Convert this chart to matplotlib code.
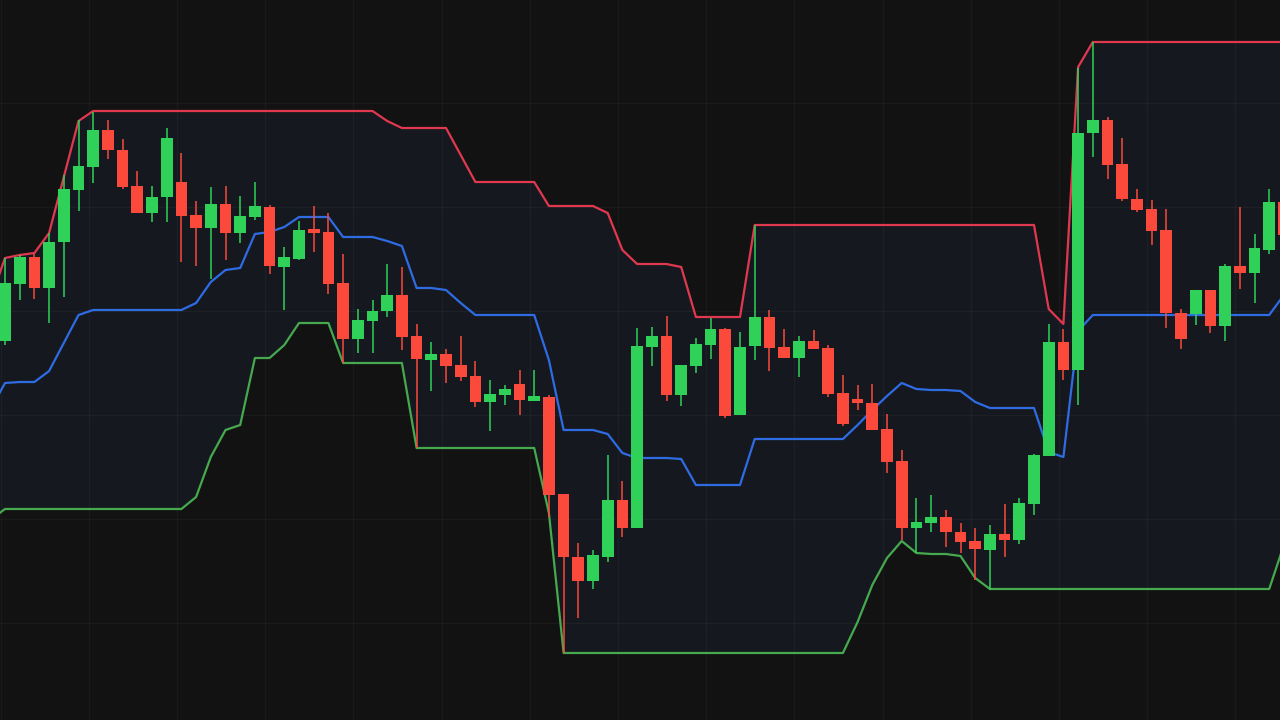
import numpy as np
import matplotlib.pyplot as plt
from matplotlib.patches import Rectangle

# candles (price units), index 0..87
opens = [379, 436, 463, 432, 478, 530, 553, 590, 570, 534, 507, 523, 538, 505, 492, 516, 487, 503, 513, 453,
         461, 491, 488, 437, 381, 399, 409, 425, 384, 360, 366, 355, 344, 318, 325, 336, 319, 323, 226, 163,
         139, 163, 220, 192, 373, 384, 325, 354, 375, 391, 305, 374, 403, 373, 362, 379, 372, 327, 321, 317,
         291, 259, 192, 197, 203, 188, 179, 170, 186, 180, 216, 264, 378, 350, 587, 600, 556, 521, 511, 490,
         407, 406, 430, 394, 454, 447, 470, 518]
highs = [462, 465, 466, 487, 545, 600, 608, 600, 581, 549, 534, 592, 567, 519, 533, 534, 524, 538, 515, 473,
         499, 514, 507, 466, 411, 420, 456, 453, 396, 378, 371, 384, 359, 340, 335, 350, 350, 325, 226, 177,
         170, 265, 239, 392, 393, 404, 355, 382, 402, 392, 388, 495, 410, 391, 384, 390, 375, 345, 335, 336,
         306, 270, 222, 225, 210, 197, 192, 195, 216, 222, 266, 396, 391, 652, 678, 603, 582, 531, 520, 511,
         411, 430, 430, 456, 513, 486, 531, 530]
lows = [375, 420, 421, 397, 423, 509, 537, 561, 531, 507, 498, 498, 458, 454, 441, 460, 477, 500, 446, 410,
        460, 468, 426, 357, 367, 367, 403, 370, 272, 329, 337, 339, 313, 289, 315, 305, 319, 203, 67, 102,
        131, 158, 183, 192, 354, 319, 314, 347, 361, 302, 305, 360, 349, 362, 343, 371, 323, 294, 310, 290,
        247, 180, 167, 188, 173, 167, 140, 130, 163, 176, 205, 264, 340, 315, 563, 541, 519, 508, 475, 392,
        371, 395, 387, 379, 431, 417, 466, 475]
closes = [437, 463, 432, 478, 531, 554, 590, 570, 533, 507, 523, 582, 504, 492, 516, 487, 504, 514, 454, 463,
          490, 487, 436, 381, 400, 409, 425, 383, 361, 366, 354, 343, 318, 326, 331, 320, 324, 225, 163, 139,
          165, 220, 192, 374, 384, 325, 355, 376, 391, 304, 373, 403, 372, 362, 379, 371, 326, 296, 317, 290,
          258, 192, 198, 203, 188, 178, 171, 186, 180, 217, 265, 378, 350, 587, 600, 555, 521, 510, 489, 407,
          381, 430, 394, 454, 447, 472, 518, 485]

# Donchian channel, index -1..87
upper = [420, 462, 465, 467, 487, 543, 599, 609, 609, 609, 609, 609, 609, 609, 609, 609, 609, 609, 609, 609,
         609, 609, 609, 609, 609, 609, 609, 599, 592, 592, 592, 592, 565, 538, 538, 538, 538, 538, 514, 514,
         514, 514, 507, 470, 456, 456, 456, 453, 403, 403, 403, 403, 495, 495, 495, 495, 495, 495, 495, 495,
         495, 495, 495, 495, 495, 495, 495, 495, 495, 495, 495, 495, 411, 396, 653, 678, 678, 678, 678, 678,
         678, 678, 678, 678, 678, 678, 678, 678, 678]
middle = [310, 337, 338, 338, 349, 377, 405, 410, 410, 410, 410, 410, 410, 410, 417, 438, 450, 452, 486, 488,
          493, 503, 503, 503, 483, 483, 483, 479, 474, 432, 432, 430, 417, 405, 405, 405, 405, 405, 360, 290,
          290, 290, 286, 267, 262, 262, 262, 261, 235, 235, 235, 235, 281, 281, 281, 281, 281, 281, 281, 295,
          310, 324, 337, 331, 330, 330, 329, 318, 312, 312, 312, 312, 268, 263, 389, 405, 405, 405, 405, 405,
          405, 405, 405, 405, 405, 405, 405, 405, 425]
lower = [200, 211, 211, 211, 211, 211, 211, 211, 211, 211, 211, 211, 211, 211, 223, 263, 290, 295, 362, 362,
         375, 397, 397, 397, 357, 357, 357, 357, 357, 272, 272, 272, 272, 272, 272, 272, 272, 272, 207, 67,
         67, 67, 67, 67, 67, 67, 67, 67, 67, 67, 67, 67, 67, 67, 67, 67, 67, 67, 67, 98,
         135, 162, 179, 167, 166, 166, 164, 142, 131, 131, 131, 131, 131, 131, 131, 131, 131, 131, 131, 131,
         131, 131, 131, 131, 131, 131, 131, 131, 175]

bg = '#121212'
up_col = '#2fd159'
dn_col = '#fb4a3c'

fig = plt.figure(figsize=(12.8, 7.2), dpi=100, facecolor=bg)
ax = fig.add_axes([0, 0, 1, 1])
ax.set_facecolor(bg)

idx = np.arange(len(opens))
cidx = np.arange(-1, len(upper) - 1)

ax.fill_between(cidx, lower, upper, color='#15191f', lw=0, zorder=1)

# faint grid, over the channel fill
for yy in np.arange(-7, 720, 104):
    ax.axhline(yy, color='white', alpha=0.035, lw=1.0, zorder=1.5)
for xx in np.arange(-0.3, 90, 6.0):
    ax.axvline(xx, color='white', alpha=0.03, lw=1.0, zorder=1.5)

ax.plot(cidx, upper, color='#e0384f', lw=1.6, zorder=2)
ax.plot(cidx, middle, color='#2f6be3', lw=1.6, zorder=2)
ax.plot(cidx, lower, color='#46a94e', lw=1.6, zorder=2)

w = 0.8
for i, o, h, l, c in zip(idx, opens, highs, lows, closes):
    col = up_col if c >= o else dn_col
    ax.vlines(i, l, h, color=col, lw=1.1, zorder=3)
    ax.add_patch(Rectangle((i - w / 2, min(o, c)), w, max(abs(c - o), 1.5),
                           facecolor=col, edgecolor='none', zorder=4))

ax.set_xlim(-5 / 14.7, 1275 / 14.7)
ax.set_ylim(0, 720)
ax.axis('off')

fig.savefig('out.png', dpi=100, facecolor=bg)
